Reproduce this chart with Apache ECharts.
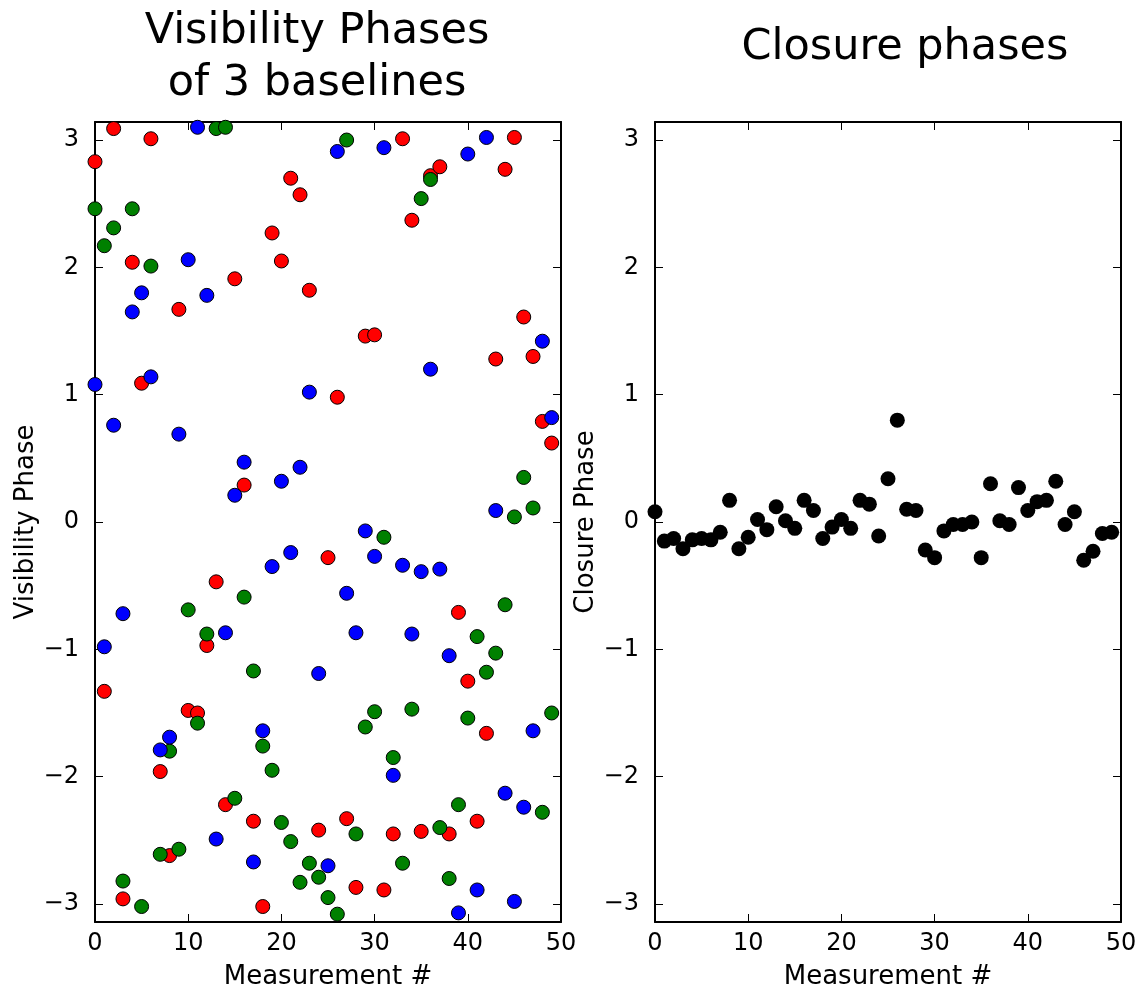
<!DOCTYPE html>
<html>
<head>
<meta charset="utf-8">
<script src="https://cdn.jsdelivr.net/npm/echarts@6/dist/echarts.min.js"></script>
<style>
  html, body { margin: 0; padding: 0; background: #fff; }
  #chart { width: 1144px; height: 988px; }
</style>
</head>
<body>
<div id="chart"></div>
<script>
const medidas = Array.from({ length: 50 }, (_, i) => i);

const faseRoja = [2.83, -1.33, 3.09, -2.96, 2.04, 1.09, 3.01, -1.96, -2.62, 1.67,
  -1.48, -1.50, -0.97, -0.47, -2.22, 1.91, 0.29, -2.35, -3.02, 2.27,
  2.05, 2.70, 2.57, 1.82, -2.42, -0.28, 0.98, -2.33, -2.87, 1.46,
  1.47, -2.89, -2.45, 3.01, 2.37, -2.43, 2.72, 2.79, -2.45, -0.71,
  -1.25, -2.35, -1.66, 1.28, 2.77, 3.02, 1.61, 1.30, 0.79, 0.62];

const faseVerde = [2.46, 2.17, 2.31, -2.82, 2.46, -3.02, 2.01, -2.61, -1.80, -2.57,
  -0.69, -1.58, -0.88, 3.09, 3.10, -2.17, -0.59, -1.17, -1.76, -1.95,
  -2.36, -2.51, -2.83, -2.68, -2.79, -2.95, -3.08, 3.00, -2.45, -1.61,
  -1.49, -0.12, -1.85, -2.68, -1.47, 2.54, 2.69, -2.40, -2.80, -2.22,
  -1.54, -0.90, -1.18, -1.03, -0.65, 0.04, 0.35, 0.11, -2.28, -1.50];

const faseAzul = [1.08, -0.98, 0.76, -0.72, 1.65, 1.80, 1.14, -1.79, -1.69, 0.69,
  2.06, 3.10, 1.78, -2.49, -0.87, 0.21, 0.47, -2.67, -1.64, -0.35,
  0.32, -0.24, 0.43, 1.02, -1.19, -2.70, 2.91, -0.56, -0.87, -0.07,
  -0.27, 2.94, -1.99, -0.34, -0.88, -0.39, 1.20, -0.37, -1.05, -3.07,
  2.89, -2.89, 3.02, 0.09, -2.13, -2.98, -2.24, -1.64, 1.42, 0.82];

const faseCierre = [0.08, -0.15, -0.13, -0.21, -0.14, -0.13, -0.14, -0.08, 0.17, -0.21,
  -0.12, 0.02, -0.06, 0.12, 0.01, -0.05, 0.17, 0.09, -0.13, -0.04,
  0.02, -0.05, 0.17, 0.14, -0.11, 0.34, 0.80, 0.10, 0.09, -0.22,
  -0.28, -0.07, -0.02, -0.02, 0.00, -0.28, 0.30, 0.01, -0.02, 0.27,
  0.09, 0.16, 0.17, 0.32, -0.02, 0.08, -0.30, -0.23, -0.09, -0.08];

const ticksX = [0, 10, 20, 30, 40, 50];
const ticksY = [-3, -2, -1, 0, 1, 2, 3];

const fuente = 'DejaVu Sans';
const menos = (v) => String(v).replace('-', '\u2212');

let pares = (arr) => arr.map((v, i) => [medidas[i], v]);

let ejeX = (grid, pos, conEtiqueta) => ({
  type: 'value', gridIndex: grid, position: pos,
  min: 0, max: 50,
  name: conEtiqueta ? 'Measurement #' : '',
  nameLocation: 'middle', nameGap: 42,
  nameTextStyle: { fontFamily: fuente, fontSize: 26, color: '#000' },
  axisLine: { show: true, onZero: false, lineStyle: { color: '#000', width: 2 } },
  axisTick: { show: true, inside: true, length: 8, customValues: ticksX, lineStyle: { color: '#000', width: 1 } },
  axisLabel: { show: conEtiqueta, customValues: ticksX, margin: 10, fontFamily: fuente, fontSize: 24, color: '#000' },
  splitLine: { show: false }
});

let ejeY = (grid, pos, nombre) => ({
  type: 'value', gridIndex: grid, position: pos,
  min: -Math.PI, max: Math.PI,
  name: nombre || '',
  nameLocation: 'middle', nameGap: 56,
  nameTextStyle: { fontFamily: fuente, fontSize: 26, color: '#000' },
  axisLine: { show: true, onZero: false, lineStyle: { color: '#000', width: 2 } },
  axisTick: { show: true, inside: true, length: 8, customValues: ticksY, lineStyle: { color: '#000', width: 1 } },
  axisLabel: { show: pos === 'left', customValues: ticksY, margin: 16, formatter: menos, fontFamily: fuente, fontSize: 24, color: '#000' },
  splitLine: { show: false }
});

let serieFase = (nombre, datos, color) => ({
  name: nombre, type: 'scatter', xAxisIndex: 0, yAxisIndex: 0,
  data: pares(datos), symbolSize: 14,
  itemStyle: { color: color, borderColor: '#000', borderWidth: 1, opacity: 1 },
  silent: true
});

let chart = echarts.init(document.getElementById('chart'), null, { renderer: 'canvas' });

let option = {
  animation: false,
  backgroundColor: '#fff',
  title: [{
    text: 'Visibility Phases\nof 3 baselines', left: 312, top: 1, textAlign: 'center',
    textStyle: { fontFamily: fuente, fontSize: 43, fontWeight: 'normal', color: '#000', lineHeight: 52 }
  }, {
    text: 'Closure phases', left: 900, top: 21, textAlign: 'center',
    textStyle: { fontFamily: fuente, fontSize: 43, fontWeight: 'normal', color: '#000' }
  }],
  grid: [
    { left: 95, top: 122, width: 466, height: 800, outerBoundsMode: 'none', containLabel: false },
    { left: 655, top: 122, width: 466, height: 800, outerBoundsMode: 'none', containLabel: false }
  ],
  xAxis: [ejeX(0, 'bottom', true), ejeX(0, 'top', false), ejeX(1, 'bottom', true), ejeX(1, 'top', false)],
  yAxis: [ejeY(0, 'left', 'Visibility Phase'), ejeY(0, 'right'), ejeY(1, 'left', 'Closure Phase'), ejeY(1, 'right')],
  series: [
    serieFase('rojo', faseRoja, '#ff0000'),
    serieFase('verde', faseVerde, '#008000'),
    serieFase('azul', faseAzul, '#0000ff'),
    {
      name: 'cierre', type: 'scatter', xAxisIndex: 2, yAxisIndex: 2,
      data: pares(faseCierre), symbolSize: 15,
      itemStyle: { color: '#000', opacity: 1 },
      silent: true
    }
  ]
};

option && chart.setOption(option);
window.addEventListener('resize', chart.resize);
</script>
</body>
</html>
